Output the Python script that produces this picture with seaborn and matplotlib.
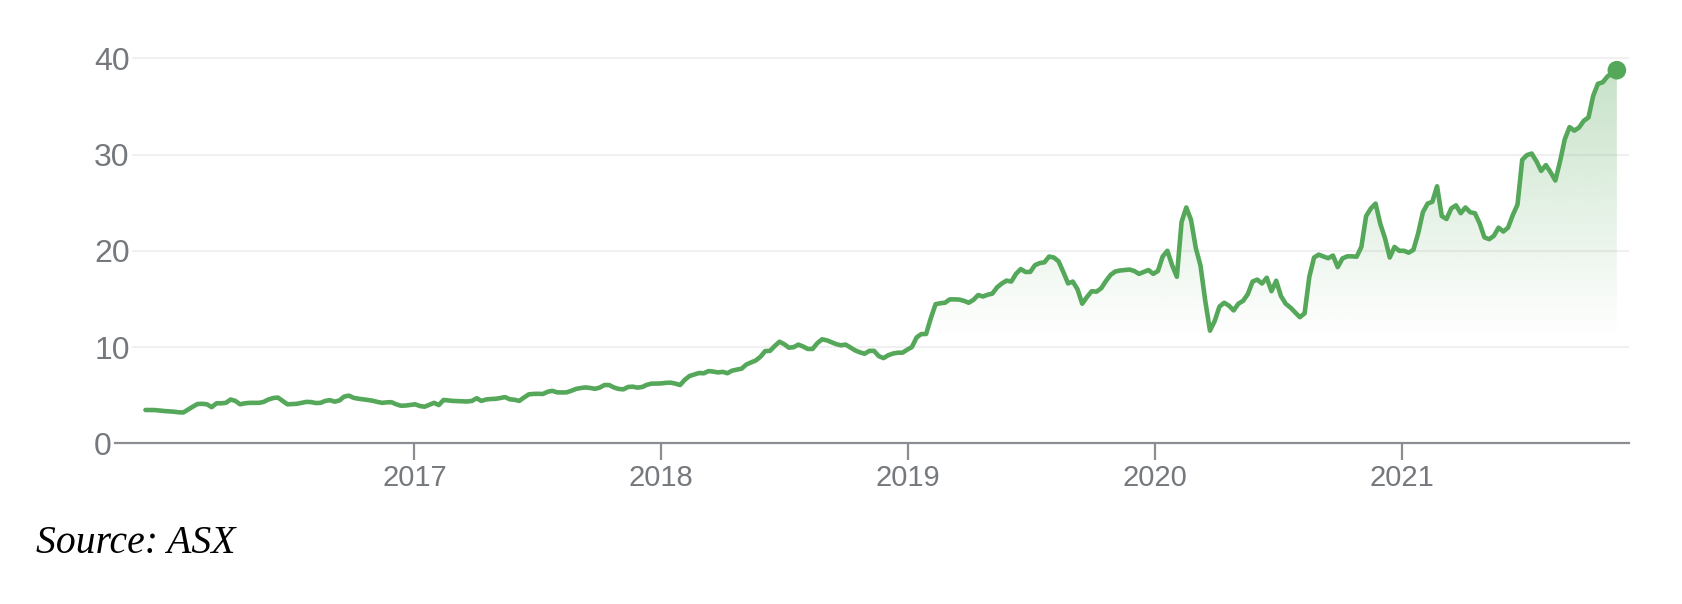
import numpy as np
import pandas as pd
import matplotlib
matplotlib.use("Agg")
import matplotlib.pyplot as plt
import matplotlib.dates as mdates
from matplotlib.patches import Polygon
import seaborn as sns

# weekly closing price, starting end of Nov 2015
start_date = "2015-11-30"
prices = [
    3.46, 3.46, 3.45, 3.40, 3.35, 3.32, 3.28, 3.22, 3.20, 3.50,
    3.80, 4.08, 4.10, 4.05, 3.75, 4.15, 4.15, 4.20, 4.55, 4.40,
    4.05, 4.15, 4.20, 4.20, 4.20, 4.30, 4.55, 4.70, 4.75, 4.40,
    4.05, 4.08, 4.10, 4.20, 4.30, 4.28, 4.18, 4.20, 4.40, 4.48,
    4.32, 4.45, 4.85, 4.95, 4.72, 4.63, 4.57, 4.50, 4.42, 4.30,
    4.20, 4.25, 4.27, 4.05, 3.90, 3.92, 3.98, 4.05, 3.87, 3.80,
    4.00, 4.20, 3.97, 4.50, 4.45, 4.40, 4.38, 4.36, 4.34, 4.40,
    4.68, 4.40, 4.55, 4.60, 4.62, 4.70, 4.80, 4.57, 4.52, 4.40,
    4.75, 5.08, 5.13, 5.14, 5.12, 5.35, 5.45, 5.29, 5.28, 5.29,
    5.45, 5.65, 5.74, 5.80, 5.75, 5.66, 5.78, 6.05, 6.05, 5.80,
    5.65, 5.60, 5.85, 5.88, 5.78, 5.85, 6.08, 6.20, 6.20, 6.22,
    6.28, 6.30, 6.20, 6.05, 6.60, 6.99, 7.15, 7.30, 7.27, 7.50,
    7.45, 7.36, 7.42, 7.28, 7.55, 7.65, 7.75, 8.18, 8.40, 8.60,
    9.00, 9.58, 9.60, 10.10, 10.55, 10.30, 9.93, 9.98, 10.25, 10.05,
    9.80, 9.80, 10.40, 10.80, 10.70, 10.50, 10.30, 10.18, 10.25, 9.95,
    9.65, 9.45, 9.30, 9.60, 9.60, 9.05, 8.85, 9.15, 9.32, 9.41,
    9.41, 9.72, 10.00, 11.00, 11.35, 11.35, 13.00, 14.45, 14.55, 14.60,
    14.95, 14.95, 14.93, 14.80, 14.60, 14.90, 15.40, 15.25, 15.43, 15.55,
    16.20, 16.60, 16.90, 16.80, 17.60, 18.10, 17.80, 17.80, 18.50, 18.72,
    18.80, 19.40, 19.30, 18.90, 17.80, 16.61, 16.80, 16.00, 14.50, 15.20,
    15.80, 15.75, 16.10, 16.85, 17.50, 17.85, 17.95, 18.00, 18.05, 17.90,
    17.60, 17.80, 18.00, 17.60, 17.90, 19.40, 20.00, 18.50, 17.30, 23.00,
    24.50, 23.20, 20.30, 18.45, 14.80, 11.70, 12.70, 14.20, 14.60, 14.30,
    13.80, 14.50, 14.80, 15.50, 16.80, 17.00, 16.60, 17.20, 15.80, 16.89,
    15.30, 14.50, 14.10, 13.60, 13.10, 13.50, 17.30, 19.30, 19.60, 19.40,
    19.23, 19.50, 18.30, 19.20, 19.42, 19.42, 19.38, 20.40, 23.60, 24.40,
    24.90, 22.80, 21.30, 19.30, 20.40, 20.00, 20.00, 19.80, 20.10, 21.80,
    24.00, 24.90, 25.09, 26.70, 23.60, 23.30, 24.40, 24.72, 23.90, 24.50,
    24.00, 23.90, 22.85, 21.40, 21.20, 21.55, 22.40, 22.00, 22.40, 23.70,
    24.80, 29.45, 29.94, 30.10, 29.30, 28.30, 28.90, 28.15, 27.30, 29.30,
    31.60, 32.85, 32.48, 32.80, 33.50, 33.85, 36.10, 37.35, 37.50, 38.10,
    38.50, 38.76,
]
year_ticks = ["2017", "2018", "2019", "2020", "2021"]
y_ticks = [0, 10, 20, 30, 40]
source_text = "Source: ASX"

dates = pd.date_range(start_date, periods=len(prices), freq="7D")
df = pd.DataFrame({"date": dates, "price": prices})

sns.set_style("white")
plt.rcParams["font.family"] = ["Liberation Sans", "DejaVu Sans"]

green = "#55a75a"
axis_grey = "#8a8d91"
label_grey = "#75787c"

fig = plt.figure(figsize=(16.82, 6.04), dpi=100)
ax = fig.add_axes([0.0684, 0.2661, 0.9001, 0.6693])

# horizontal grid
for v in y_ticks[1:]:
    ax.axhline(v, xmin=0.012, color="#f0f0f0", linewidth=1.5, zorder=0)

# line + end marker
sns.lineplot(data=df, x="date", y="price", ax=ax, color=green,
             linewidth=3.3, zorder=3)
sns.scatterplot(data=df.tail(1), x="date", y="price", ax=ax, color=green,
                s=180, edgecolor="none", zorder=4)

# gradient fill under the line, stronger toward the top
xnum = mdates.date2num(df["date"])
verts = [(xnum[0], 0)] + list(zip(xnum, prices)) + [(xnum[-1], 0)]
clip = Polygon(verts, closed=True, facecolor="none", edgecolor="none")
ax.add_patch(clip)
yy = np.linspace(0, 42, 300)
alpha = np.clip((yy - 11) / (38.8 - 11), 0, 1) * 0.33
rgba = np.zeros((300, 1, 4))
rgba[:, 0, :3] = matplotlib.colors.to_rgb(green)
rgba[:, 0, 3] = alpha
img = ax.imshow(rgba, origin="lower", aspect="auto", zorder=1,
                extent=[xnum[0], xnum[-1], 0, 42], interpolation="bilinear")
img.set_clip_path(clip)

ax.set_xlim(pd.Timestamp("2015-10-16"), pd.Timestamp("2021-12-03"))
ax.set_ylim(0, 42)

for s in ["top", "right", "left"]:
    ax.spines[s].set_visible(False)
ax.spines["bottom"].set_color(axis_grey)
ax.spines["bottom"].set_linewidth(1.6)

ax.set_xticks(pd.to_datetime(year_ticks, format="%Y"))
ax.set_xticklabels(year_ticks)
ax.set_yticks(y_ticks)
ax.set_yticklabels([str(v) for v in y_ticks])
ax.tick_params(axis="x", length=12, width=1.6, color=axis_grey,
               labelcolor=label_grey, labelsize=21, pad=3, bottom=True)
ax.tick_params(axis="y", length=0, labelcolor=label_grey, labelsize=23,
               pad=15, left=True)
for lab in ax.get_yticklabels():
    lab.set_horizontalalignment("left")
ax.set_xlabel("")
ax.set_ylabel("")
ax.grid(False)

fig.text(0.0214, 0.0844, source_text, fontsize=28.5, style="italic",
         color="black", family=["Liberation Serif", "DejaVu Serif"],
         va="baseline", ha="left")

fig.savefig("out.png", dpi=100)
